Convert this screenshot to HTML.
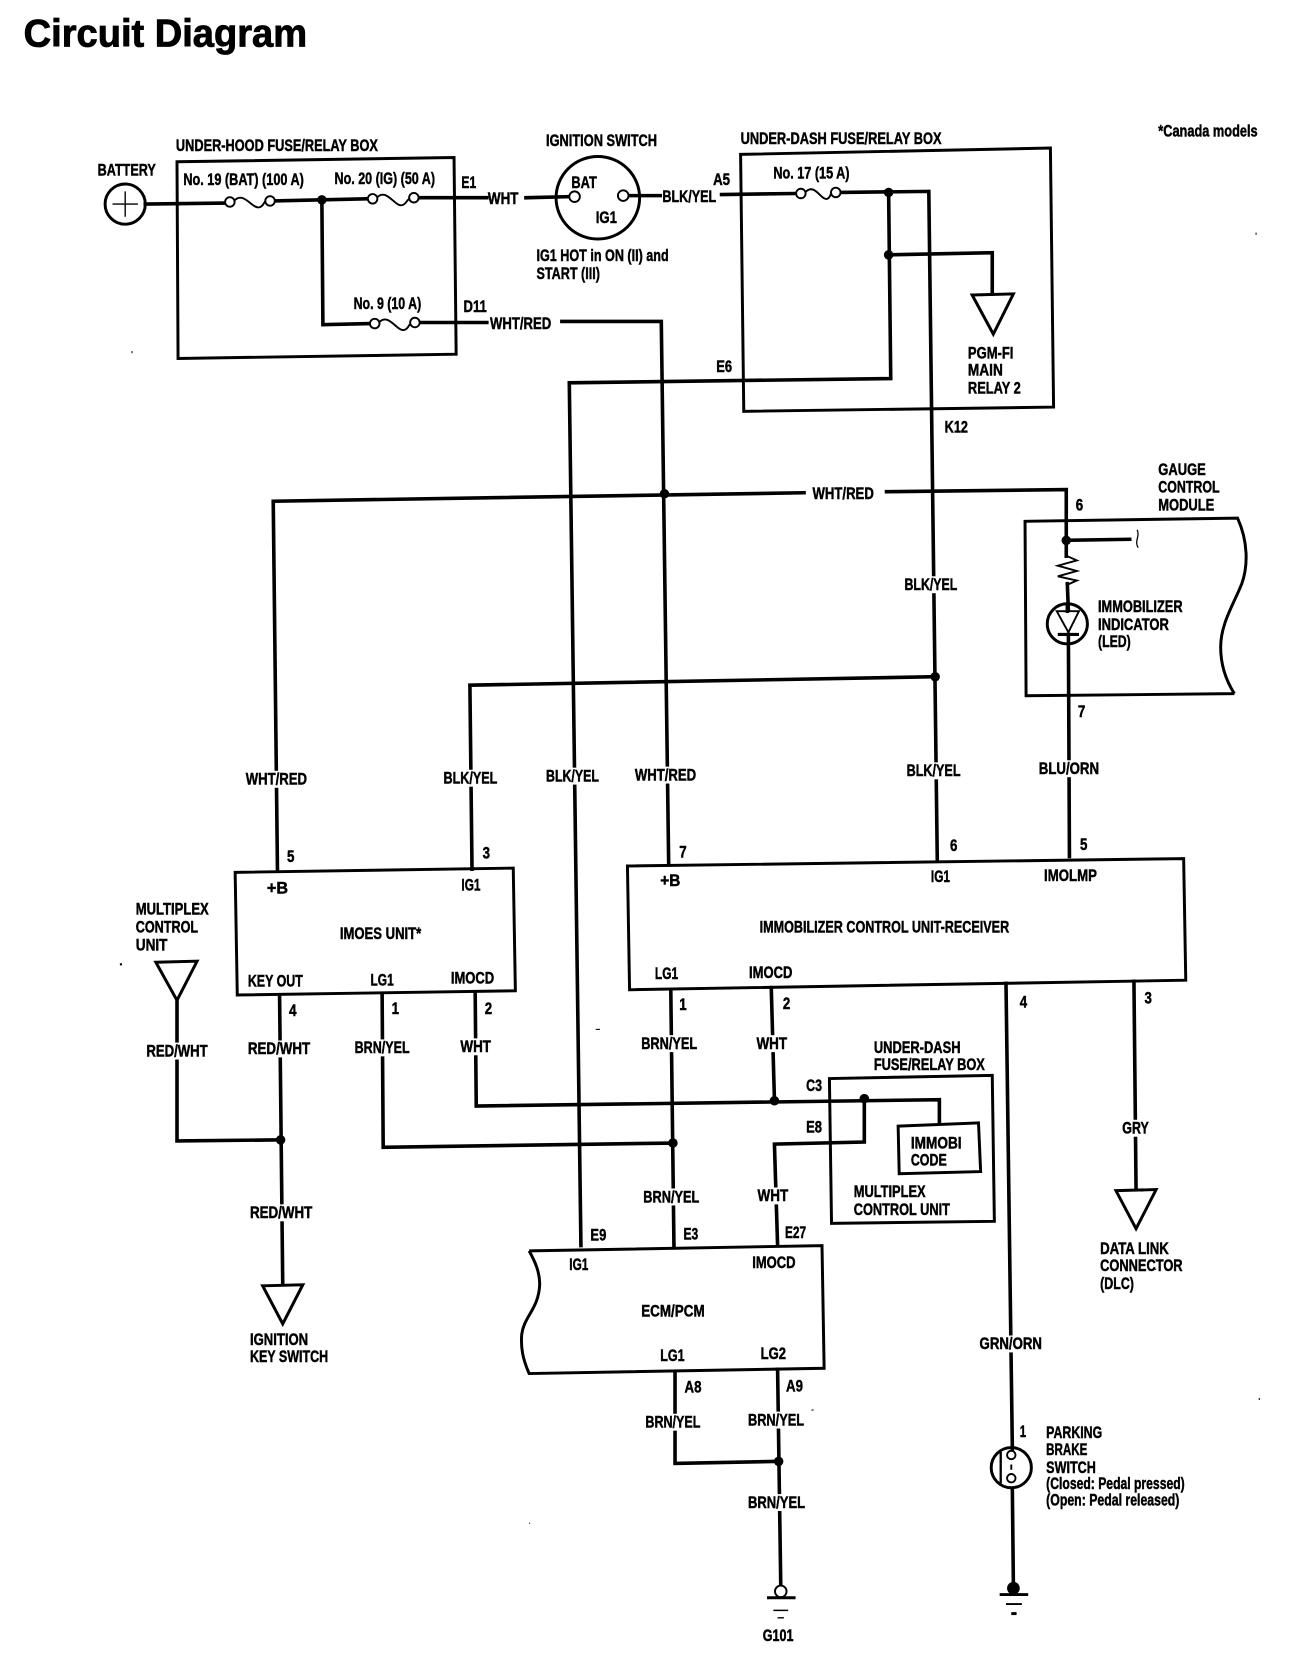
<!DOCTYPE html>
<html><head><meta charset="utf-8"><title>Circuit Diagram</title>
<style>
html,body{margin:0;padding:0;background:#fff}
svg{display:block}
.w{fill:none;stroke:#000;stroke-width:3.4;stroke-linecap:square;stroke-linejoin:miter}
.b{fill:none;stroke:#000;stroke-width:2.8;stroke-linejoin:miter}
.t{fill:none;stroke:#000;stroke-width:1.8}
.d{fill:#000;stroke:none}
.o{fill:#fff;stroke:#000;stroke-width:1.8}
text{font-family:"Liberation Sans",sans-serif;font-weight:bold;font-size:16px;fill:#000;stroke:#000;stroke-width:.45}
</style></head><body>
<svg xmlns="http://www.w3.org/2000/svg" width="1312" height="1658" viewBox="0 0 1240 1568">
<rect width="1240" height="1568" fill="#fff"/>

<!-- boxes -->
<polygon class="b" points="167,153 429,149 431,335 168,339"/>
<polygon class="b" points="700,146 993,140 996,385 703,389"/>
<polygon class="b" points="222,825 485,821 487,937 224,941"/>
<polygon class="b" points="593,819 1119,812 1121,927 595,936"/>
<polygon class="b" points="784,1020 938,1017 940,1155 786,1157"/>
<path class="b" d="M1167,656 L970,658 L969,493 L1170,490 C1180,512 1180,535 1174,552 C1166,572 1154,590 1154,612 C1154,630 1160,645 1167,656"/>
<path class="b" d="M500,1183 L777,1178 L779,1294 L500,1299 C494,1285 492,1275 493,1262 C495,1245 509,1238 510,1215 C510,1202 505,1192 500,1183"/>

<!-- wires -->
<path class="w" d="M137,193 L213,192 M259,190 L346,188 M395,187 L460,187 M497,187 L538,186"/>
<path class="w" d="M304,189 L305,307 L350,306 M397,305 L460,305"/>
<path class="w" d="M531,304 L625,304 L632,818"/>
<path class="w" d="M594,185 L624,185 M682,184 L752,183 M795,182 L878,181 L886,813"/>
<path class="w" d="M840,182 L842,358 L538,362 L549,1178"/>
<path class="w" d="M840,241 L938,239 L938,278"/>
<path class="w" d="M262,822 L258,474 L760,466 M838,465 L1008,463 L1008,526"/>
<path class="w" d="M1008,511 L1068,510"/>
<path class="w" d="M1009,552 L1010,578 M1010,600 L1011,810"/>
<path class="w" d="M884,640 L444,648 L446,822"/>
<path class="w" d="M167,946 L167,1079 L265,1078"/>
<path class="w" d="M264,941 L267,1215"/>
<path class="w" d="M361,941 L362,1085 L636,1081"/>
<path class="w" d="M449,939 L450,1046 L888,1040 L888,1062"/>
<path class="w" d="M634,937 L637,1180"/>
<path class="w" d="M729,934 L732,1040"/>
<path class="w" d="M817,1039 L817,1080 L732,1082 L735,1178"/>
<path class="w" d="M951,930 L957,1370 M957,1408 L958,1500"/>
<path class="w" d="M1072,928 L1074,1125"/>
<path class="w" d="M638,1297 L638,1384 L736,1382"/>
<path class="w" d="M735,1295 L738,1500"/>

<!-- label gaps on wires -->
<g fill="#fff">
<rect x="870" y="545" width="22" height="16"/>
<rect x="872" y="721" width="24" height="16"/>
<rect x="1000" y="719" width="22" height="16"/>
<rect x="252" y="729" width="20" height="16"/>
<rect x="436" y="728" width="20" height="16"/>
<rect x="532" y="726" width="20" height="16"/>
<rect x="620" y="725" width="20" height="16"/>
<rect x="158" y="986" width="20" height="16"/>
<rect x="255" y="984" width="20" height="16"/>
<rect x="256" y="1139" width="20" height="16"/>
<rect x="352" y="983" width="20" height="16"/>
<rect x="440" y="982" width="20" height="16"/>
<rect x="625" y="979" width="20" height="16"/>
<rect x="627" y="1124" width="20" height="16"/>
<rect x="720" y="979" width="20" height="16"/>
<rect x="722" y="1123" width="20" height="16"/>
<rect x="945" y="1263" width="22" height="16"/>
<rect x="1064" y="1059" width="20" height="16"/>
<rect x="628" y="1337" width="20" height="16"/>
<rect x="726" y="1335" width="20" height="16"/>
<rect x="727" y="1413" width="20" height="16"/>
</g>

<!-- dots -->
<circle class="d" cx="304" cy="189" r="4.5"/>
<circle class="d" cx="840" cy="182" r="4.5"/>
<circle class="d" cx="840" cy="241" r="4.5"/>
<circle class="d" cx="628" cy="467" r="4.5"/>
<circle class="d" cx="884" cy="640" r="4.5"/>
<circle class="d" cx="1008" cy="511" r="4.5"/>
<circle class="d" cx="265" cy="1078" r="4.5"/>
<circle class="d" cx="636" cy="1081" r="4.5"/>
<circle class="d" cx="732" cy="1041" r="4.5"/>
<circle class="d" cx="817" cy="1039" r="4.5"/>
<circle class="d" cx="736" cy="1382" r="4.5"/>

<!-- battery -->
<circle class="b" cx="118" cy="193" r="19"/>
<path class="t" d="M106,193 H130 M118,181 V205" style="stroke-width:1.3"/>

<!-- fuses -->
<path class="t" d="M221,190 C230,180 238,198 245,196 C249,195 249,191 251,190"/>
<circle class="o" cx="217" cy="191" r="4.5"/><circle class="o" cx="255" cy="190" r="4.5"/>
<path class="t" d="M356,187 C365,177 373,196 380,194 C384,193 384,189 387,188"/>
<circle class="o" cx="352" cy="188" r="4.5"/><circle class="o" cx="391" cy="187" r="4.5"/>
<path class="t" d="M358,305 C367,295 375,314 382,312 C386,311 386,307 388,306"/>
<circle class="o" cx="354" cy="306" r="4.5"/><circle class="o" cx="392" cy="305" r="4.5"/>
<path class="t" d="M761,182 C770,172 776,190 782,188 C785,187 785,183 786,182"/>
<circle class="o" cx="757" cy="183" r="4.5"/><circle class="o" cx="790" cy="182" r="4.5"/>

<!-- ignition switch -->
<ellipse class="b" cx="565" cy="187" rx="39.5" ry="39"/>
<circle class="o" cx="543" cy="186" r="5"/>
<circle class="o" cx="589" cy="185" r="5"/>

<!-- triangles -->
<polygon class="b" points="919,279 958,278 939,316"/>
<polygon class="b" points="147,910 186,909 167,946"/>
<polygon class="b" points="248,1216 286,1215 267,1252"/>
<polygon class="b" points="1055,1126 1093,1125 1074,1162"/>

<!-- immobi code box -->
<polygon class="b" points="849,1065 925,1062 927,1108 850,1110"/>

<!-- gauge internals -->
<path class="t" d="M1075,501 C1078,507 1072,512 1076,518" style="stroke-width:1.2"/>
<path class="t" d="M1009,526 L1018,530 L1000,535 L1018,540 L1000,545 L1018,549 L1009,553"/>
<circle class="b" cx="1009" cy="590" r="19"/>
<polygon class="t" points="999,578 1020,578 1010,598" style="fill:#fff"/>
<path class="b" d="M1000,600 H1020" style="stroke-width:3"/>
<path class="w" d="M1009,572 V578"/>

<!-- parking brake switch -->
<circle class="b" cx="956" cy="1388" r="19"/>
<path class="t" d="M946,1373 V1403" style="stroke-width:2.2"/>
<path class="t" d="M956,1385 V1390"/>
<circle class="o" cx="956" cy="1376" r="4"/>
<circle class="o" cx="956" cy="1398" r="4"/>

<!-- grounds -->
<circle class="o" cx="738" cy="1505" r="5.5"/>
<path class="b" d="M725,1511 H752"/>
<path class="t" d="M731,1523 H745 M735,1530 H741" style="stroke-width:1.4"/>
<circle class="d" cx="958" cy="1502" r="6"/>
<path class="b" d="M945,1508 H972"/>
<path class="t" d="M951,1517 H966"/>
<path class="b" d="M956,1526 H961"/>

<!-- speckles -->
<g class="d">
<rect x="113" y="911" width="2" height="2"/><rect x="124" y="332" width="1" height="2"/>
<rect x="1187" y="220" width="1" height="2"/><rect x="1190" y="1322" width="1" height="2"/>
<rect x="1092" y="1200" width="1" height="1"/><rect x="563" y="973" width="4" height="1"/>
<rect x="767" y="1333" width="2" height="1"/><rect x="500" y="1440" width="1" height="1"/>
</g>

<!-- text -->
<g>
<text x="22" y="44" textLength="268" lengthAdjust="spacingAndGlyphs" style="font-size:37px;stroke-width:.8">Circuit Diagram</text>
<text x="166" y="143" textLength="191" lengthAdjust="spacingAndGlyphs">UNDER-HOOD FUSE/RELAY BOX</text>
<text x="92" y="166" textLength="55" lengthAdjust="spacingAndGlyphs">BATTERY</text>
<text x="173" y="175" textLength="114" lengthAdjust="spacingAndGlyphs">No. 19 (BAT) (100 A)</text>
<text x="316" y="174" textLength="95" lengthAdjust="spacingAndGlyphs">No. 20 (IG) (50 A)</text>
<text x="436" y="178" textLength="14" lengthAdjust="spacingAndGlyphs">E1</text>
<text x="461" y="193" textLength="29" lengthAdjust="spacingAndGlyphs">WHT</text>
<text x="516" y="138" textLength="105" lengthAdjust="spacingAndGlyphs">IGNITION SWITCH</text>
<text x="540" y="178" textLength="24" lengthAdjust="spacingAndGlyphs">BAT</text>
<text x="563" y="211" textLength="20" lengthAdjust="spacingAndGlyphs">IG1</text>
<text x="507" y="247" textLength="125" lengthAdjust="spacingAndGlyphs">IG1 HOT in ON (II) and</text>
<text x="507" y="264" textLength="60" lengthAdjust="spacingAndGlyphs">START (III)</text>
<text x="626" y="191" textLength="51" lengthAdjust="spacingAndGlyphs">BLK/YEL</text>
<text x="674" y="175" textLength="16" lengthAdjust="spacingAndGlyphs">A5</text>
<text x="700" y="136" textLength="190" lengthAdjust="spacingAndGlyphs">UNDER-DASH FUSE/RELAY BOX</text>
<text x="731" y="169" textLength="72" lengthAdjust="spacingAndGlyphs">No. 17 (15 A)</text>
<text x="1095" y="129" textLength="94" lengthAdjust="spacingAndGlyphs">*Canada models</text>
<text x="334" y="292" textLength="64" lengthAdjust="spacingAndGlyphs">No. 9 (10 A)</text>
<text x="438" y="295" textLength="22" lengthAdjust="spacingAndGlyphs">D11</text>
<text x="463" y="311" textLength="58" lengthAdjust="spacingAndGlyphs">WHT/RED</text>
<text x="677" y="352" textLength="15" lengthAdjust="spacingAndGlyphs">E6</text>
<text x="915" y="339" textLength="43" lengthAdjust="spacingAndGlyphs">PGM-FI</text>
<text x="915" y="355" textLength="33" lengthAdjust="spacingAndGlyphs">MAIN</text>
<text x="915" y="372" textLength="50" lengthAdjust="spacingAndGlyphs">RELAY 2</text>
<text x="893" y="409" textLength="22" lengthAdjust="spacingAndGlyphs">K12</text>
<text x="768" y="472" textLength="58" lengthAdjust="spacingAndGlyphs">WHT/RED</text>
<text x="1095" y="449" textLength="45" lengthAdjust="spacingAndGlyphs">GAUGE</text>
<text x="1095" y="466" textLength="58" lengthAdjust="spacingAndGlyphs">CONTROL</text>
<text x="1095" y="483" textLength="53" lengthAdjust="spacingAndGlyphs">MODULE</text>
<text x="1017" y="483" textLength="7" lengthAdjust="spacingAndGlyphs">6</text>
<text x="855" y="558" textLength="50" lengthAdjust="spacingAndGlyphs">BLK/YEL</text>
<text x="1038" y="579" textLength="80" lengthAdjust="spacingAndGlyphs">IMMOBILIZER</text>
<text x="1038" y="596" textLength="67" lengthAdjust="spacingAndGlyphs">INDICATOR</text>
<text x="1038" y="612" textLength="31" lengthAdjust="spacingAndGlyphs">(LED)</text>
<text x="1019" y="678" textLength="7" lengthAdjust="spacingAndGlyphs">7</text>
<text x="982" y="732" textLength="57" lengthAdjust="spacingAndGlyphs">BLU/ORN</text>
<text x="857" y="734" textLength="51" lengthAdjust="spacingAndGlyphs">BLK/YEL</text>
<text x="232" y="742" textLength="58" lengthAdjust="spacingAndGlyphs">WHT/RED</text>
<text x="419" y="741" textLength="51" lengthAdjust="spacingAndGlyphs">BLK/YEL</text>
<text x="516" y="739" textLength="50" lengthAdjust="spacingAndGlyphs">BLK/YEL</text>
<text x="600" y="738" textLength="58" lengthAdjust="spacingAndGlyphs">WHT/RED</text>
<text x="271" y="815" textLength="7" lengthAdjust="spacingAndGlyphs">5</text>
<text x="456" y="812" textLength="7" lengthAdjust="spacingAndGlyphs">3</text>
<text x="642" y="811" textLength="7" lengthAdjust="spacingAndGlyphs">7</text>
<text x="898" y="805" textLength="7" lengthAdjust="spacingAndGlyphs">6</text>
<text x="1021" y="804" textLength="7" lengthAdjust="spacingAndGlyphs">5</text>
<text x="252" y="845" textLength="20" lengthAdjust="spacingAndGlyphs">+B</text>
<text x="436" y="842" textLength="18" lengthAdjust="spacingAndGlyphs">IG1</text>
<text x="321" y="888" textLength="77" lengthAdjust="spacingAndGlyphs">IMOES UNIT*</text>
<text x="234" y="933" textLength="52" lengthAdjust="spacingAndGlyphs">KEY OUT</text>
<text x="350" y="932" textLength="22" lengthAdjust="spacingAndGlyphs">LG1</text>
<text x="426" y="930" textLength="41" lengthAdjust="spacingAndGlyphs">IMOCD</text>
<text x="624" y="838" textLength="19" lengthAdjust="spacingAndGlyphs">+B</text>
<text x="880" y="834" textLength="18" lengthAdjust="spacingAndGlyphs">IG1</text>
<text x="987" y="833" textLength="50" lengthAdjust="spacingAndGlyphs">IMOLMP</text>
<text x="718" y="882" textLength="236" lengthAdjust="spacingAndGlyphs">IMMOBILIZER CONTROL UNIT-RECEIVER</text>
<text x="619" y="926" textLength="22" lengthAdjust="spacingAndGlyphs">LG1</text>
<text x="708" y="925" textLength="41" lengthAdjust="spacingAndGlyphs">IMOCD</text>
<text x="128" y="865" textLength="69" lengthAdjust="spacingAndGlyphs">MULTIPLEX</text>
<text x="128" y="882" textLength="59" lengthAdjust="spacingAndGlyphs">CONTROL</text>
<text x="128" y="899" textLength="30" lengthAdjust="spacingAndGlyphs">UNIT</text>
<text x="273" y="961" textLength="7" lengthAdjust="spacingAndGlyphs">4</text>
<text x="370" y="959" textLength="7" lengthAdjust="spacingAndGlyphs">1</text>
<text x="458" y="959" textLength="7" lengthAdjust="spacingAndGlyphs">2</text>
<text x="642" y="955" textLength="7" lengthAdjust="spacingAndGlyphs">1</text>
<text x="740" y="954" textLength="7" lengthAdjust="spacingAndGlyphs">2</text>
<text x="964" y="953" textLength="7" lengthAdjust="spacingAndGlyphs">4</text>
<text x="1082" y="949" textLength="7" lengthAdjust="spacingAndGlyphs">3</text>
<text x="138" y="999" textLength="58" lengthAdjust="spacingAndGlyphs">RED/WHT</text>
<text x="234" y="997" textLength="59" lengthAdjust="spacingAndGlyphs">RED/WHT</text>
<text x="335" y="996" textLength="52" lengthAdjust="spacingAndGlyphs">BRN/YEL</text>
<text x="435" y="995" textLength="29" lengthAdjust="spacingAndGlyphs">WHT</text>
<text x="606" y="992" textLength="53" lengthAdjust="spacingAndGlyphs">BRN/YEL</text>
<text x="715" y="992" textLength="29" lengthAdjust="spacingAndGlyphs">WHT</text>
<text x="826" y="996" textLength="82" lengthAdjust="spacingAndGlyphs">UNDER-DASH</text>
<text x="826" y="1012" textLength="105" lengthAdjust="spacingAndGlyphs">FUSE/RELAY BOX</text>
<text x="762" y="1032" textLength="15" lengthAdjust="spacingAndGlyphs">C3</text>
<text x="762" y="1071" textLength="15" lengthAdjust="spacingAndGlyphs">E8</text>
<text x="1061" y="1072" textLength="25" lengthAdjust="spacingAndGlyphs">GRY</text>
<text x="861" y="1086" textLength="48" lengthAdjust="spacingAndGlyphs">IMMOBI</text>
<text x="861" y="1102" textLength="34" lengthAdjust="spacingAndGlyphs">CODE</text>
<text x="807" y="1132" textLength="68" lengthAdjust="spacingAndGlyphs">MULTIPLEX</text>
<text x="807" y="1149" textLength="91" lengthAdjust="spacingAndGlyphs">CONTROL UNIT</text>
<text x="236" y="1152" textLength="59" lengthAdjust="spacingAndGlyphs">RED/WHT</text>
<text x="608" y="1137" textLength="53" lengthAdjust="spacingAndGlyphs">BRN/YEL</text>
<text x="716" y="1136" textLength="29" lengthAdjust="spacingAndGlyphs">WHT</text>
<text x="558" y="1173" textLength="15" lengthAdjust="spacingAndGlyphs">E9</text>
<text x="646" y="1172" textLength="14" lengthAdjust="spacingAndGlyphs">E3</text>
<text x="742" y="1171" textLength="20" lengthAdjust="spacingAndGlyphs">E27</text>
<text x="1040" y="1186" textLength="65" lengthAdjust="spacingAndGlyphs">DATA LINK</text>
<text x="1040" y="1202" textLength="78" lengthAdjust="spacingAndGlyphs">CONNECTOR</text>
<text x="1040" y="1219" textLength="32" lengthAdjust="spacingAndGlyphs">(DLC)</text>
<text x="538" y="1201" textLength="18" lengthAdjust="spacingAndGlyphs">IG1</text>
<text x="711" y="1199" textLength="41" lengthAdjust="spacingAndGlyphs">IMOCD</text>
<text x="606" y="1245" textLength="60" lengthAdjust="spacingAndGlyphs">ECM/PCM</text>
<text x="236" y="1272" textLength="55" lengthAdjust="spacingAndGlyphs">IGNITION</text>
<text x="236" y="1288" textLength="74" lengthAdjust="spacingAndGlyphs">KEY SWITCH</text>
<text x="926" y="1276" textLength="59" lengthAdjust="spacingAndGlyphs">GRN/ORN</text>
<text x="624" y="1287" textLength="23" lengthAdjust="spacingAndGlyphs">LG1</text>
<text x="719" y="1285" textLength="24" lengthAdjust="spacingAndGlyphs">LG2</text>
<text x="647" y="1317" textLength="16" lengthAdjust="spacingAndGlyphs">A8</text>
<text x="743" y="1316" textLength="16" lengthAdjust="spacingAndGlyphs">A9</text>
<text x="610" y="1350" textLength="52" lengthAdjust="spacingAndGlyphs">BRN/YEL</text>
<text x="707" y="1348" textLength="53" lengthAdjust="spacingAndGlyphs">BRN/YEL</text>
<text x="707" y="1426" textLength="54" lengthAdjust="spacingAndGlyphs">BRN/YEL</text>
<text x="964" y="1359" textLength="6" lengthAdjust="spacingAndGlyphs">1</text>
<text x="989" y="1360" textLength="53" lengthAdjust="spacingAndGlyphs">PARKING</text>
<text x="989" y="1376" textLength="39" lengthAdjust="spacingAndGlyphs">BRAKE</text>
<text x="989" y="1393" textLength="47" lengthAdjust="spacingAndGlyphs">SWITCH</text>
<text x="989" y="1408" textLength="131" lengthAdjust="spacingAndGlyphs">(Closed: Pedal pressed)</text>
<text x="989" y="1424" textLength="126" lengthAdjust="spacingAndGlyphs">(Open: Pedal released)</text>
<text x="721" y="1552" textLength="29" lengthAdjust="spacingAndGlyphs">G101</text>
</g>
</svg>
</body></html>
